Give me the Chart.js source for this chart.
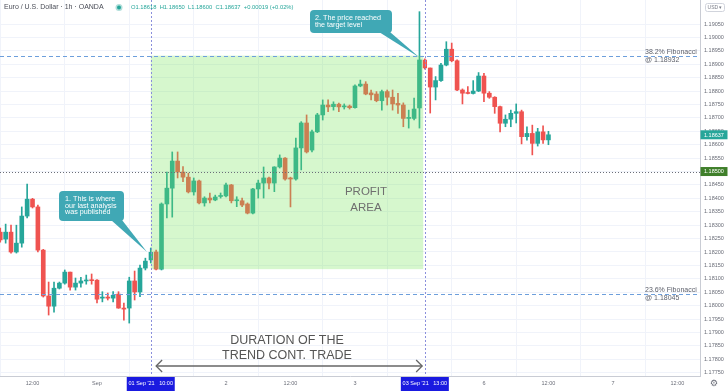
<!DOCTYPE html>
<html><head><meta charset="utf-8">
<script src="https://cdn.jsdelivr.net/npm/chart.js@4.4.0/dist/chart.umd.min.js"></script>
<style>html,body{margin:0;padding:0;background:#fff;overflow:hidden}canvas{display:block}</style>
</head><body>
<canvas id="c" width="728" height="391"></canvas>
<script>
// ---- data (hour index: 0 = 31 Aug 00:00, weekend collapsed) ----
const hours = [6,7,8,9,10,11,12,13,14,15,16,17,18,19,20,21,22,23,24,25,26,27,28,29,30,31,32,33,34,35,36,37,38,39,40,41,42,43,44,45,46,47,48,49,50,51,52,53,54,55,56,57,58,59,60,61,62,63,64,65,66,67,68,69,70,71,72,73,74,75,76,77,78,79,80,81,82,83,84,85,86,87,88,89,90,91,92,93,94,95,96,97,98,99,100,101,102,103,104,105,106,107,108];
const opens = [1.18274,1.18248,1.18274,1.18200,1.18233,1.18334,1.18397,1.18368,1.18207,1.18036,
 1.17998,1.18065,1.18084,1.18125,1.18069,1.18084,1.18092,1.18095,1.18095,1.18028,
 1.18032,1.18028,1.18043,1.17991,1.17991,1.18092,1.18051,1.18140,1.18170,1.18200,
 1.18136,1.18379,1.18438,1.18539,1.18498,1.18479,1.18424,1.18465,1.18383,1.18401,
 1.18394,1.18407,1.18409,1.18450,1.18391,1.18391,1.18379,1.18345,1.18435,1.18457,
 1.18476,1.18457,1.18517,1.18550,1.18476,1.18472,1.18588,1.18681,1.18580,1.18648,
 1.18711,1.18748,1.18742,1.18751,1.18741,1.18744,1.18738,1.18819,1.18826,1.18793,
 1.18789,1.18764,1.18798,1.18777,1.18754,1.18748,1.18698,1.18698,1.18737,1.18916,
 1.18886,1.18815,1.18839,1.18897,1.18956,1.18913,1.18804,1.18792,1.18791,1.18800,
 1.18856,1.18792,1.18777,1.18742,1.18680,1.18695,1.18717,1.18723,1.18630,1.18642,
 1.18605,1.18648,1.18618];
const highs = [1.18289,1.18304,1.18300,1.18300,1.18368,1.18453,1.18400,1.18375,1.18210,1.18088,
 1.18088,1.18088,1.18133,1.18125,1.18103,1.18106,1.18114,1.18118,1.18097,1.18052,
 1.18047,1.18052,1.18052,1.18010,1.18106,1.18129,1.18151,1.18177,1.18215,1.18207,
 1.18383,1.18498,1.18573,1.18573,1.18518,1.18494,1.18476,1.18468,1.18406,1.18420,
 1.18412,1.18420,1.18457,1.18452,1.18406,1.18401,1.18383,1.18437,1.18468,1.18517,
 1.18479,1.18518,1.18562,1.18552,1.18479,1.18625,1.18686,1.18711,1.18655,1.18717,
 1.18767,1.18767,1.18760,1.18755,1.18752,1.18748,1.18823,1.18841,1.18835,1.18804,
 1.18798,1.18804,1.18804,1.18804,1.18792,1.18756,1.18729,1.18774,1.19096,1.18920,
 1.18886,1.18854,1.18903,1.18984,1.18979,1.18916,1.18808,1.18817,1.18839,1.18869,
 1.18866,1.18798,1.18779,1.18744,1.18711,1.18729,1.18752,1.18729,1.18667,1.18673,
 1.18661,1.18670,1.18650];
const lows = [1.18237,1.18233,1.18196,1.18196,1.18218,1.18327,1.18364,1.18200,1.18032,1.17965,
 1.17976,1.18062,1.18080,1.18058,1.18058,1.18069,1.18080,1.18080,1.18010,1.18014,
 1.18021,1.18014,1.17990,1.17946,1.17935,1.18021,1.18033,1.18133,1.18159,1.18133,
 1.18133,1.18327,1.18330,1.18476,1.18462,1.18420,1.18412,1.18379,1.18371,1.18383,
 1.18391,1.18401,1.18405,1.18383,1.18369,1.18369,1.18342,1.18342,1.18401,1.18401,
 1.18435,1.18425,1.18513,1.18468,1.18368,1.18468,1.18506,1.18569,1.18573,1.18645,
 1.18692,1.18723,1.18729,1.18723,1.18733,1.18733,1.18736,1.18816,1.18786,1.18767,
 1.18760,1.18729,1.18748,1.18729,1.18717,1.18667,1.18662,1.18692,1.18662,1.18882,
 1.18718,1.18767,1.18836,1.18894,1.18909,1.18801,1.18752,1.18789,1.18789,1.18798,
 1.18760,1.18773,1.18717,1.18648,1.18667,1.18667,1.18681,1.18603,1.18617,1.18562,
 1.18595,1.18605,1.18600];
const closes = [1.18245,1.18274,1.18200,1.18233,1.18334,1.18397,1.18368,1.18207,1.18036,1.17998,
 1.18065,1.18084,1.18125,1.18069,1.18084,1.18092,1.18095,1.18093,1.18024,1.18032,
 1.18028,1.18039,1.17991,1.17987,1.18092,1.18051,1.18140,1.18166,1.18200,1.18136,
 1.18379,1.18438,1.18539,1.18498,1.18479,1.18424,1.18465,1.18383,1.18401,1.18394,
 1.18405,1.18409,1.18450,1.18391,1.18392,1.18375,1.18345,1.18435,1.18457,1.18476,
 1.18457,1.18517,1.18550,1.18472,1.18472,1.18588,1.18681,1.18573,1.18648,1.18711,
 1.18748,1.18741,1.18751,1.18741,1.18744,1.18738,1.18819,1.18826,1.18789,1.18786,
 1.18764,1.18798,1.18777,1.18752,1.18748,1.18698,1.18699,1.18733,1.18916,1.18885,
 1.18815,1.18839,1.18897,1.18956,1.18913,1.18804,1.18792,1.18791,1.18800,1.18856,
 1.18792,1.18777,1.18742,1.18680,1.18695,1.18717,1.18723,1.18630,1.18642,1.18605,
 1.18648,1.18618,1.18637];

const xTickHours  = [12, 24, 36, 48, 60, 72, 84, 96, 108, 120, 132];
const xTickLabels = ["12:00","Sep","12:00","2","12:00","3","12:00","6","12:00","7","12:00"];
const yTickValues = [1.1775,1.1780,1.1785,1.1790,1.1795,1.1800,1.1805,1.1810,1.1815,1.1820,1.1825,1.1830,1.1835,1.1840,1.1845,1.1850,1.1855,1.1860,1.1865,1.1870,1.1875,1.1880,1.1885,1.1890,1.1895,1.1900,1.1905];
const markerHours  = [34, 85];
const markerLabels = ["01 Sep '21   10:00", "03 Sep '21   13:00"];
const fibLevels = [1.18932, 1.18045];
const fibTitles = ["38.2% Fibonacci", "23.6% Fibonacci"];
const fibValues = ["@ 1.18932", "@ 1.18045"];
const supportLevel = 1.18500;
const lastPrice = 1.18637;
const profitFromHour = 34, profitToHour = 84.7, profitTop = 1.18932, profitBottom = 1.18136;
const callout1Tip = [33.3, 1.18200];
const callout2Tip = [84, 1.18925];
const headerTitle = "Euro / U.S. Dollar \u00B7 1h \u00B7 OANDA";
const headerOHLC = "O1.18618  H1.18650  L1.18600  C1.18637  +0.00019 (+0.02%)";

// ---- styling ----
const FONT = "'Liberation Sans', Arial, sans-serif";
const UP = '#26a69a', DOWN = '#ef5350';
const f = (sz, w) => (w || 'normal') + ' ' + sz + 'px ' + FONT;

const up = hours.map((h, i) => closes[i] >= opens[i]);
const candleColors = up.map(u => u ? UP : DOWN);
const bodyFill = hours.map((h, i) => markerHours.includes(h) ? (up[i] ? 'rgba(38,166,154,0.25)' : 'rgba(239,83,80,0.25)') : candleColors[i]);
const bodyBorderW = hours.map(h => markerHours.includes(h) ? 1 : 0);

function rr(ctx, x, y, w, h, r) {
  ctx.beginPath();
  ctx.moveTo(x + r, y); ctx.lineTo(x + w - r, y); ctx.quadraticCurveTo(x + w, y, x + w, y + r);
  ctx.lineTo(x + w, y + h - r); ctx.quadraticCurveTo(x + w, y + h, x + w - r, y + h);
  ctx.lineTo(x + r, y + h); ctx.quadraticCurveTo(x, y + h, x, y + h - r);
  ctx.lineTo(x, y + r); ctx.quadraticCurveTo(x, y, x + r, y); ctx.closePath();
}
function seg(ctx, x1, y1, x2, y2) { ctx.beginPath(); ctx.moveTo(x1, y1); ctx.lineTo(x2, y2); ctx.stroke(); }
function callout(ctx, bx, by, bw, bh, t1, t2, tip, lines, tx, ty0, dy) {
  ctx.fillStyle = '#40a8b5';
  rr(ctx, bx, by, bw, bh, 4); ctx.fill();
  ctx.beginPath(); ctx.moveTo(t1, by + bh - 1); ctx.lineTo(t2, by + bh - 1); ctx.lineTo(tip[0], tip[1]); ctx.closePath(); ctx.fill();
  ctx.fillStyle = '#ffffff'; ctx.font = f(7.2); ctx.textAlign = 'left'; ctx.textBaseline = 'middle';
  lines.forEach((s, i) => ctx.fillText(s, tx, ty0 + i * dy));
}

const overlay = {
  id: 'overlay',
  afterDatasetsDraw(chart) {
    const { ctx, chartArea: a, scales: { x, y } } = chart;
    ctx.save();
    ctx.beginPath(); ctx.rect(a.left, a.top, a.right - a.left, a.bottom - a.top); ctx.clip();
    // profit area
    const px1 = x.getPixelForValue(profitFromHour), px2 = x.getPixelForValue(profitToHour);
    const py1 = y.getPixelForValue(profitTop), py2 = y.getPixelForValue(profitBottom);
    ctx.fillStyle = 'rgba(120,230,90,0.3)';
    ctx.fillRect(px1, py1, px2 - px1, py2 - py1);
    // support dotted line
    ctx.lineWidth = 1;
    ctx.strokeStyle = '#6b6e78'; ctx.setLineDash([1, 2]);
    const sy = Math.round(y.getPixelForValue(supportLevel)) + 0.5;
    seg(ctx, a.left, sy, a.right, sy);
    // fib lines
    ctx.strokeStyle = '#6d9fdc'; ctx.setLineDash([4, 3]);
    fibLevels.forEach(v => { const fy = Math.round(y.getPixelForValue(v)) + 0.5; seg(ctx, a.left, fy, a.right, fy); });
    // vertical markers
    ctx.strokeStyle = '#8a8fdc'; ctx.setLineDash([2, 2]);
    markerHours.forEach(h => { const vx = Math.round(x.getPixelForValue(h)) + 0.5; seg(ctx, vx, a.top, vx, a.bottom); });
    ctx.setLineDash([]);
    // fib labels
    ctx.fillStyle = '#5d606b'; ctx.font = f(7); ctx.textAlign = 'left'; ctx.textBaseline = 'middle';
    fibLevels.forEach((v, i) => {
      const fy = y.getPixelForValue(v);
      ctx.fillText(fibTitles[i], 645, fy - 3.5);
      ctx.fillText(fibValues[i], 645, fy + 4.5);
    });
    // profit area text
    ctx.fillStyle = '#6f6f6f'; ctx.font = f(11.5); ctx.textAlign = 'center';
    ctx.fillText('PROFIT', 366, 192);
    ctx.fillText('AREA', 366, 208);
    // duration text
    ctx.fillStyle = '#555555'; ctx.font = f(12.5);
    ctx.fillText('DURATION OF THE', 287, 341);
    ctx.fillText('TREND CONT. TRADE', 287, 356);
    // double arrow
    const ax1 = x.getPixelForValue(35), ax2 = x.getPixelForValue(84.5), ay = 366;
    ctx.strokeStyle = '#666666'; ctx.lineWidth = 1.3;
    seg(ctx, ax1, ay, ax2, ay);
    ctx.beginPath(); ctx.moveTo(ax1 + 6, ay - 6); ctx.lineTo(ax1, ay); ctx.lineTo(ax1 + 6, ay + 6); ctx.stroke();
    ctx.beginPath(); ctx.moveTo(ax2 - 6, ay - 6); ctx.lineTo(ax2, ay); ctx.lineTo(ax2 - 6, ay + 6); ctx.stroke();
    // callouts
    const tip1 = [x.getPixelForValue(callout1Tip[0]), y.getPixelForValue(callout1Tip[1])];
    const tip2 = [x.getPixelForValue(callout2Tip[0]), y.getPixelForValue(callout2Tip[1])];
    callout(ctx, 59, 191, 65, 30, 111, 122, tip1, ['1. This is where', 'our last analysis', 'was published'], 65, 199.5, 6.3);
    callout(ctx, 310, 10, 82, 23, 379, 390, tip2, ['2. The price reached', 'the target level'], 315, 18.3, 7);
    ctx.restore();
  },
  afterDraw(chart) {
    const { ctx, chartArea: a, scales: { x, y } } = chart;
    ctx.save();
    // price tags on the y axis
    const tag = (v, col) => {
      const ty = y.getPixelForValue(v);
      ctx.fillStyle = col; ctx.fillRect(a.right + 0.5, ty - 4.5, 27, 9);
      ctx.fillStyle = '#ffffff'; ctx.font = f(5.5); ctx.textAlign = 'left'; ctx.textBaseline = 'middle';
      ctx.fillText(v.toFixed(5), a.right + 4, ty + 0.3);
    };
    tag(lastPrice, UP);
    tag(supportLevel, '#3f7f2a');
    // marker labels on the time axis
    markerHours.forEach((h, i) => {
      const mx = x.getPixelForValue(h);
      ctx.fillStyle = '#1a1ae0'; ctx.fillRect(mx - 24, a.bottom + 1, 48, 391 - a.bottom - 1);
      ctx.fillStyle = '#ffffff'; ctx.font = f(5.5); ctx.textAlign = 'center'; ctx.textBaseline = 'middle';
      ctx.fillText(markerLabels[i], mx, a.bottom + 7.5);
    });
    // header
    ctx.fillStyle = '#4a4d57'; ctx.font = f(7); ctx.textAlign = 'left'; ctx.textBaseline = 'middle';
    ctx.fillText(headerTitle, 4, 7.5);
    ctx.fillStyle = '#b2dfdb'; ctx.beginPath(); ctx.arc(119, 7.5, 3.5, 0, Math.PI * 2); ctx.fill();
    ctx.fillStyle = UP; ctx.beginPath(); ctx.arc(119, 7.5, 2, 0, Math.PI * 2); ctx.fill();
    ctx.fillStyle = UP; ctx.font = f(5.8);
    ctx.fillText(headerOHLC, 131, 7.5);
    // USD box
    ctx.fillStyle = '#ffffff'; rr(ctx, 705.5, 3.5, 19, 8, 2); ctx.fill();
    ctx.strokeStyle = '#d1d4dc'; ctx.lineWidth = 1; ctx.stroke();
    ctx.fillStyle = '#787b86'; ctx.font = f(5); ctx.textAlign = 'center';
    ctx.fillText('USD \u25BE', 715, 7.7);
    // gear
    ctx.font = "9px 'DejaVu Sans', sans-serif"; ctx.fillStyle = '#6a6d78';
    ctx.fillText('\u2699', 714, 383.5);
    ctx.restore();
  }
};

new Chart(document.getElementById('c'), {
  type: 'bar',
  data: {
    datasets: [
      {
        label: 'body',
        data: hours.map((h, i) => ({ x: h, y: [opens[i], closes[i]] })),
        backgroundColor: bodyFill, borderColor: candleColors, borderWidth: bodyBorderW,
        borderSkipped: false, barThickness: 4, minBarLength: 1, grouped: false
      },
      {
        label: 'wick',
        data: hours.map((h, i) => ({ x: h, y: [lows[i], highs[i]] })),
        backgroundColor: candleColors, borderWidth: 0,
        barThickness: 1, minBarLength: 1, grouped: false
      }
    ]
  },
  options: {
    responsive: false, animation: false, devicePixelRatio: 1,
    layout: { padding: 0 },
    plugins: { legend: { display: false }, tooltip: { enabled: false } },
    scales: {
      x: {
        type: 'linear', min: 5.95, max: 136.2, offset: false,
        afterBuildTicks: s => { s.ticks = xTickHours.map(v => ({ value: v })); },
        afterFit: s => { s.height = 15; s.paddingLeft = 0; s.paddingRight = 0; },
        ticks: {
          autoSkip: false, maxRotation: 0, padding: 4, color: '#6a6d78',
          font: { size: 5.5, family: FONT },
          callback: v => { const k = xTickHours.indexOf(v); return k >= 0 ? xTickLabels[k] : ''; }
        },
        grid: { color: '#f0f3fa', drawTicks: false },
        border: { color: '#c9ccd4' }
      },
      y: {
        position: 'right', min: 1.177377, max: 1.191395,
        afterBuildTicks: s => { s.ticks = yTickValues.map(v => ({ value: v })); },
        afterFit: s => { s.width = 28; s.paddingTop = 0; s.paddingBottom = 0; },
        ticks: {
          padding: 4, color: '#6a6d78', font: { size: 5.5, family: FONT },
          callback: v => Number(v).toFixed(5)
        },
        grid: { color: '#f0f3fa', drawTicks: false },
        border: { color: '#c9ccd4' }
      }
    }
  },
  plugins: [overlay]
});
</script>
</body></html>
